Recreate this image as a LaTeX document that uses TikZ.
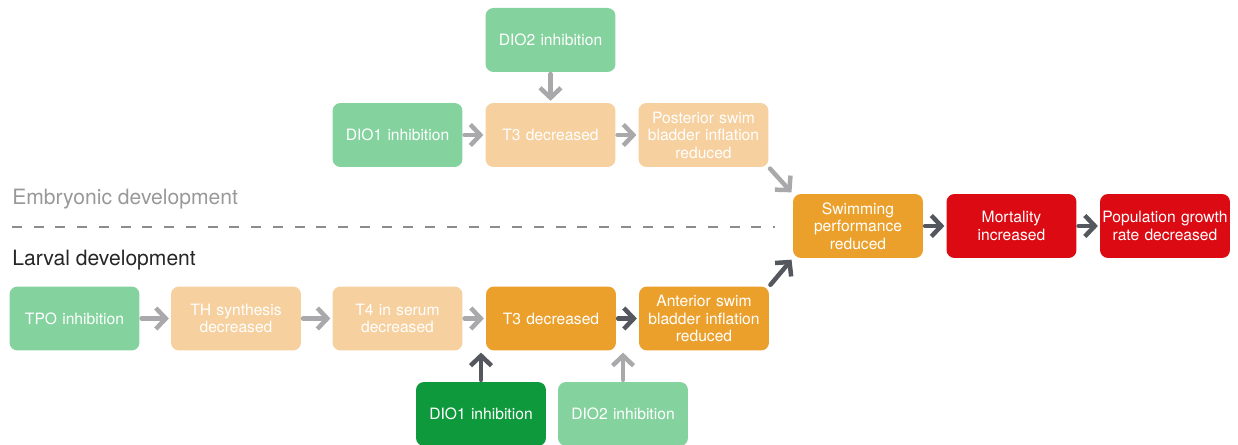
\documentclass[tikz,border=0pt]{standalone}
\usepackage{fontspec}
\setmainfont{TeX Gyre Heros}
\usetikzlibrary{arrows.meta}
\definecolor{lgreen}{HTML}{84D39E}
\definecolor{dgreen}{HTML}{0E9A3C}
\definecolor{pale}{HTML}{F6D09E}
\definecolor{orng}{HTML}{ECA02C}
\definecolor{red}{HTML}{DC0B13}
\definecolor{arrgray}{HTML}{A9A9AB}
\definecolor{arrdark}{HTML}{54585E}
\tikzset{box/.style={rectangle, rounded corners=0.16cm, minimum width=2.6cm, minimum height=1.28cm, text width=2.56cm, inner sep=0pt, align=center, text=white, font=\fontsize{8.9}{10}\selectfont},
         grayarr/.style={draw=arrgray, line width=0.09cm, line cap=round, -{Straight Barb[length=0.2cm,width=0.42cm]}, shorten >=1pt, shorten <=1pt},
         darkarr/.style={grayarr, draw=arrdark}}

\begin{document}
\begin{tikzpicture}[x=0.02cm, y=-0.02cm]
   \useasboundingbox (0,0) rectangle (1238,445);
   % embryonic
   \node[box, fill=lgreen] (dioTwoE) at (550.5, 40.0) {DIO2 inhibition};
   \node[box, fill=lgreen] (dioOneE) at (397.5,135.0) {DIO1 inhibition};
   \node[box, fill=pale]   (tThreeE) at (550.5,135.0) {T3 decreased};
   \node[box, fill=pale]   (post)    at (703.5,135.0) {Posterior swim\\bladder inflation\\reduced};
   \draw[grayarr] (dioTwoE) -- (tThreeE);
   \draw[grayarr] (dioOneE) -- (tThreeE);
   \draw[grayarr] (tThreeE) -- (post);
   % separator
   \node[anchor=base west, inner sep=0pt, text=black!40, font=\fontsize{12}{14}\selectfont] (embryo) at (12,205) {Embryonic development};
   \node[anchor=base west, inner sep=0pt, text=black!85, font=\fontsize{12}{14}\selectfont] (larva) at (12,266) {Larval development};
   \draw[black!45, line width=0.04cm, dash pattern=on 0.2cm off 0.235cm] (12,227) -- (775,227);
   % larval
   \node[box, fill=lgreen] (tpo)     at ( 74.5,318.5) {TPO inhibition};
   \node[box, fill=pale]   (thSyn)   at (236.0,318.5) {TH synthesis\\decreased};
   \node[box, fill=pale]   (tFour)   at (397.5,318.5) {T4 in serum\\decreased};
   \node[box, fill=orng]   (tThreeL) at (551.0,318.5) {T3 decreased};
   \node[box, fill=orng]   (ant)     at (704.0,318.5) {Anterior swim\\bladder inflation\\reduced};
   \node[box, fill=dgreen] (dioOneL) at (481.0,414.0) {DIO1 inhibition};
   \node[box, fill=lgreen] (dioTwoL) at (623.0,414.0) {DIO2 inhibition};
   \draw[grayarr] (tpo) -- (thSyn);
   \draw[grayarr] (thSyn) -- (tFour);
   \draw[grayarr] (tFour) -- (tThreeL);
   \draw[darkarr] (tThreeL) -- (ant);
   \draw[darkarr] (dioOneL) -- (dioOneL |- tThreeL.south);
   \draw[grayarr] (dioTwoL) -- (dioTwoL |- tThreeL.south);
   % outcomes
   \node[box, fill=orng] (swim) at ( 858.0,226.0) {Swimming\\performance\\reduced};
   \node[box, fill=red]  (mort) at (1011.5,226.0) {Mortality\\increased};
   \node[box, fill=red]  (pop)  at (1165.0,226.0) {Population growth\\rate decreased};
   \draw[grayarr] (post.south east) -- (swim.north west);
   \draw[darkarr] (ant.north east) -- (swim.south west);
   \draw[darkarr] (swim) -- (mort);
   \draw[darkarr] (mort) -- (pop);
\end{tikzpicture}
\end{document}
